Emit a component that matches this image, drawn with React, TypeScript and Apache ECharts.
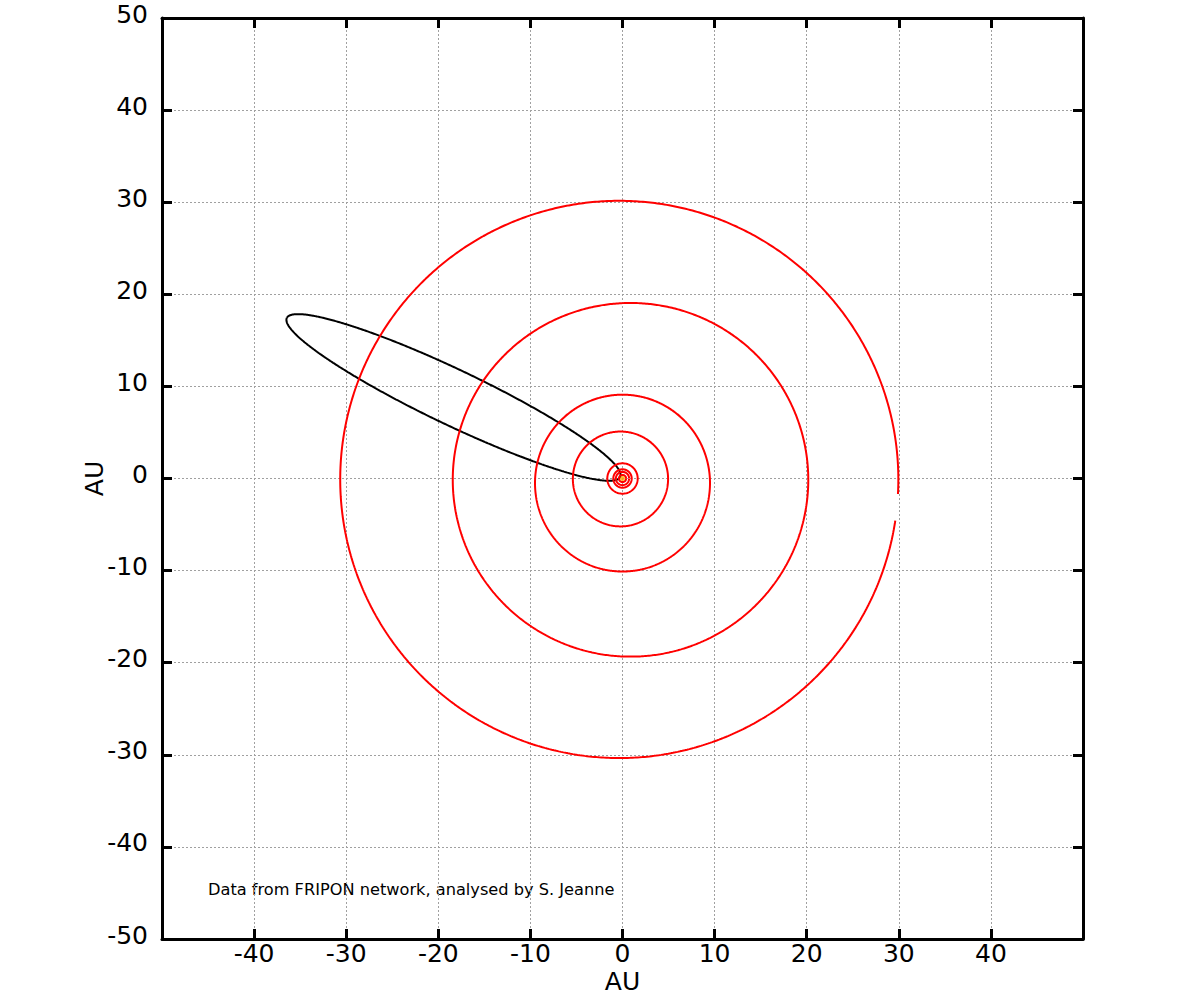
import React, { useEffect, useRef } from "react";
import * as echarts from "echarts";

// Axis ticks (AU)
const axisMin = -50;
const axisMax = 50;
const axisStep = 10;

// Planetary orbits (ecliptic projection)
const planetNames = ["Mercury", "Venus", "Earth", "Mars", "Jupiter", "Saturn", "Uranus", "Neptune"];
const orbitCx = [0, 0, 0, 0, -0.22, 0, 0.87, -0.35];
const orbitCy = [0, 0, 0, 0, -0.05, -0.5, -0.14, -0.1];
const orbitRx = [0.39, 0.72, 1.0, 1.65, 5.17, 9.5, 19.3, 30.3];
const orbitRy = [0.39, 0.72, 1.0, 1.65, 5.15, 9.6, 19.2, 30.25];
const orbitStartDeg = [0, 0, 0, 0, 0, 0, 0, -3];
const orbitSweepDeg = [360, 360, 360, 360, 360, 360, 360, 354.5];

// Meteoroid orbit (projected ellipse)
const meteoroidCenter = [-18.35, 8.8];
const meteoroidSemiMajor = 20.05;
const meteoroidSemiMinor = 3.0;
const meteoroidAngleDeg = 154.5;

// Sun
const sunPos = [[0, 0]];

const footnote = "Data from FRIPON network, analysed by S. Jeanne";

function arcPoints(cx: number, cy: number, rx: number, ry: number, startDeg: number, sweepDeg: number) {
  const pts: number[][] = [];
  const n = 720;
  for (let i = 0; i <= n; i++) {
    const t = ((startDeg + (sweepDeg * i) / n) * Math.PI) / 180;
    pts.push([cx + rx * Math.cos(t), cy + ry * Math.sin(t)]);
  }
  return pts;
}

function rotatedEllipse(c: number[], a: number, b: number, angDeg: number) {
  const pts: number[][] = [];
  const n = 720;
  const ang = (angDeg * Math.PI) / 180;
  const ux = Math.cos(ang), uy = Math.sin(ang);
  const vx = -uy, vy = ux;
  for (let i = 0; i <= n; i++) {
    const t = (2 * Math.PI * i) / n;
    const ca = a * Math.cos(t), sb = b * Math.sin(t);
    pts.push([c[0] + ca * ux + sb * vx, c[1] + ca * uy + sb * vy]);
  }
  return pts;
}

export default function App() {
  const ref = useRef<HTMLDivElement>(null);
  useEffect(() => {
    if (!ref.current) return;
    const chart = echarts.init(ref.current, null, { renderer: "svg" });
    const font = "DejaVu Sans";
    const axisLineStyle = { color: "#000", width: 3 };
    const baseAxis = {
      type: "value",
      min: axisMin,
      max: axisMax,
      interval: axisStep,
      axisLine: { show: true, onZero: false, lineStyle: axisLineStyle },
      axisTick: { show: true, inside: true, length: 10, lineStyle: { color: "#000", width: 3 } },
    };
    const series: any[] = [];
    series.push({
      name: "Meteoroid",
      type: "line",
      data: rotatedEllipse(meteoroidCenter, meteoroidSemiMajor, meteoroidSemiMinor, meteoroidAngleDeg),
      showSymbol: false,
      lineStyle: { color: "#000", width: 2 },
      z: 2,
    });
    planetNames.forEach((name, i) => {
      series.push({
        name,
        type: "line",
        data: arcPoints(orbitCx[i], orbitCy[i], orbitRx[i], orbitRy[i], orbitStartDeg[i], orbitSweepDeg[i]),
        showSymbol: false,
        lineStyle: { color: "#ff0000", width: 2 },
        z: 3,
      });
    });
    series.push({
      name: "Sun",
      type: "scatter",
      data: sunPos,
      symbolSize: 5,
      itemStyle: { color: "#ffa500" },
      z: 4,
    });
    chart.setOption({
      animation: false,
      textStyle: { fontFamily: font },
      grid: { left: 162, right: 117, top: 18, bottom: 61, containLabel: false },
      xAxis: [
        {
          ...baseAxis,
          position: "bottom",
          name: "AU",
          nameLocation: "middle",
          nameGap: 33,
          nameMoveOverlap: false,
          nameTextStyle: { fontSize: 25, lineHeight: 18, color: "#000", fontFamily: font },
          axisLabel: {
            fontSize: 25,
            lineHeight: 20,
            color: "#000",
            fontFamily: font,
            margin: 4,
            formatter: (v: number) => (v === axisMin || v === axisMax ? "" : String(v)),
          },
          splitLine: { show: true, lineStyle: { color: "#a0a0a0", width: 1, type: [2, 2] } },
        },
        {
          ...baseAxis,
          position: "top",
          axisLabel: { show: false },
          splitLine: { show: false },
        },
      ],
      yAxis: [
        {
          ...baseAxis,
          position: "left",
          name: "AU",
          nameLocation: "middle",
          nameGap: 55,
          nameMoveOverlap: false,
          nameTextStyle: { fontSize: 25, color: "#000", fontFamily: font },
          axisLabel: {
            fontSize: 25,
            color: "#000",
            fontFamily: font,
            margin: 14,
            verticalAlign: "bottom",
            lineHeight: 8,
            showMinLabel: true,
            showMaxLabel: true,
          },
          splitLine: { show: true, lineStyle: { color: "#a0a0a0", width: 1, type: [2, 2] } },
        },
        {
          ...baseAxis,
          position: "right",
          axisLabel: { show: false },
          splitLine: { show: false },
        },
      ],
      graphic: [
        {
          type: "text",
          left: 208,
          top: 881,
          style: { text: footnote, fontSize: 16.2, fontFamily: font, fill: "#000" },
        },
      ],
      series,
    });
    return () => chart.dispose();
  }, []);
  return <div ref={ref} style={{ position: "absolute", left: 0, top: 0, width: 1200, height: 1000 }} />;
}
